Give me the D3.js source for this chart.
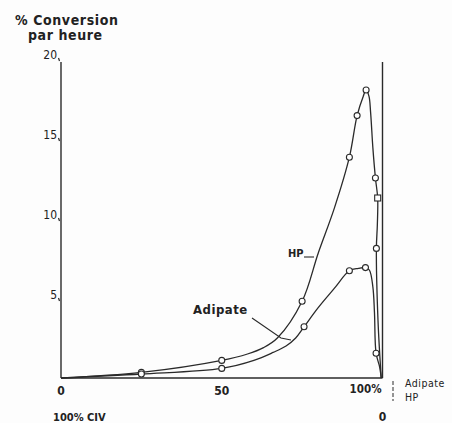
<!DOCTYPE html>
<html>
<head>
<meta charset="utf-8">
<script src="https://cdn.jsdelivr.net/npm/d3@7"></script>
<style>
  body { margin: 0; background: #fdfdfd; }
  svg { display: block; }
  text { font-family: "DejaVu Sans Condensed", "DejaVu Sans", sans-serif; fill: #222; }
</style>
</head>
<body>
<svg width="452" height="423"></svg>
<script>
// traced curve of HP (x = % along CLV -> adipate, y = % conversion per hour)
const hpX = [0, 25, 50, 58, 63, 67.3, 75, 80, 85, 89.7, 92.1, 94, 94.9, 95.8, 96.3, 97, 97.8, 98.5, 98.4, 98.1, 98.6, 99.6];
const hpY = [0, 0.35, 1.1, 1.5, 1.9, 2.5, 4.8, 7.8, 10.6, 13.8, 16.4, 17.6, 18.0, 17.6, 16.6, 14.4, 12.5, 11.25, 9.6, 8.1, 3.6, 0];
// traced curve of Adipate
const adX = [0, 25, 50, 60, 66, 70, 73, 75.6, 80, 85, 89.7, 92.5, 94.7, 95.9, 97.0, 97.5, 98.0, 99.1, 99.6];
const adY = [0, 0.25, 0.6, 1.1, 1.6, 2.0, 2.5, 3.2, 4.4, 5.6, 6.7, 6.85, 6.9, 6.75, 5.7, 4.1, 1.55, 0.7, 0];
// measured points (open circles)
const hpPtX = [25, 50, 75, 89.7, 92.1, 94.9, 97.8, 98.1];
const hpPtY = [0.35, 1.1, 4.8, 13.8, 16.4, 18.0, 12.5, 8.1];
const adPtX = [25, 50, 75.6, 89.7, 94.7, 98.0];
const adPtY = [0.25, 0.6, 3.2, 6.7, 6.9, 1.55];
// square marker
const sqX = [98.5];
const sqY = [11.25];

const yTicks = [5, 10, 15, 20];
const xTicks = [0, 50];

const svg = d3.select("svg");
const ink = "#2a2a2a";

const x = d3.scaleLinear().domain([0, 100]).range([61, 382.5]);
const y = d3.scaleLinear().domain([0, 20]).range([378, 58]);

// axes
svg.append("line").attr("x1", x(0)).attr("x2", x(0)).attr("y1", y(0)).attr("y2", 62)
  .attr("stroke", ink).attr("stroke-width", 1.4);
svg.append("line").attr("x1", x(0)).attr("x2", x(100)).attr("y1", y(0)).attr("y2", y(0))
  .attr("stroke", ink).attr("stroke-width", 1.4);
svg.append("line").attr("x1", x(100)).attr("x2", x(100)).attr("y1", y(0)).attr("y2", 62)
  .attr("stroke", ink).attr("stroke-width", 1.4);

// y ticks and labels
svg.selectAll("text.yt").data(yTicks).join("text").attr("class", "yt")
  .attr("x", 57).attr("y", d => y(d) + 1)
  .attr("text-anchor", "end").style("font-size", "12px").text(d => d);
svg.selectAll("line.ytk").data(yTicks).join("line").attr("class", "ytk")
  .attr("x1", 58.5).attr("x2", 59.5).attr("y1", d => y(d)).attr("y2", d => y(d) + 3)
  .attr("stroke", ink).attr("stroke-width", 1.2);

// x labels
svg.selectAll("text.xt").data(xTicks).join("text").attr("class", "xt")
  .attr("x", d => x(d)).attr("y", 395)
  .attr("text-anchor", "middle").style("font-size", "12px").style("font-weight", "bold").text(d => d);
svg.append("text").attr("x", x(100) - 1).attr("y", 393).attr("text-anchor", "end")
  .style("font-size", "11.5px").style("font-weight", "bold").text("100%");
svg.append("text").attr("x", x(100)).attr("y", 421).attr("text-anchor", "middle")
  .style("font-size", "12px").style("font-weight", "bold").text("0");
svg.append("line").attr("x1", 393).attr("x2", 393).attr("y1", 381).attr("y2", 401)
  .attr("stroke", ink).attr("stroke-width", 1).attr("stroke-dasharray", "4,2");
svg.append("text").attr("x", 405).attr("y", 387).style("font-size", "10.5px")
  .style("letter-spacing", "0.5px").text("Adipate");
svg.append("text").attr("x", 405).attr("y", 401).style("font-size", "10.5px")
  .style("letter-spacing", "0.5px").text("HP");
svg.append("text").attr("x", 53).attr("y", 421)
  .style("font-size", "11px").style("font-weight", "bold").text("100% CIV");

// axis title
svg.append("text").attr("x", 15).attr("y", 25).style("letter-spacing", "0.6px")
  .style("font-size", "14px").style("font-weight", "bold").text("% Conversion");
svg.append("text").attr("x", 28).attr("y", 40).style("letter-spacing", "0.6px")
  .style("font-size", "14px").style("font-weight", "bold").text("par heure");

// curves
const line = d3.line().x(d => x(d[0])).y(d => y(d[1])).curve(d3.curveCatmullRom.alpha(0.5));
const hp = d3.zip(hpX, hpY);
const ad = d3.zip(adX, adY);
svg.selectAll("path.curve").data([hp, ad]).join("path").attr("class", "curve")
  .attr("d", line).attr("fill", "none").attr("stroke", ink).attr("stroke-width", 1.3);

// markers
const pts = d3.zip(hpPtX, hpPtY).concat(d3.zip(adPtX, adPtY));
svg.selectAll("circle.pt").data(pts).join("circle").attr("class", "pt")
  .attr("cx", d => x(d[0])).attr("cy", d => y(d[1])).attr("r", 3)
  .attr("fill", "#fff").attr("stroke", ink).attr("stroke-width", 1.1);
svg.selectAll("rect.sq").data(d3.zip(sqX, sqY)).join("rect").attr("class", "sq")
  .attr("x", d => x(d[0]) - 3).attr("y", d => y(d[1]) - 3).attr("width", 6).attr("height", 6)
  .attr("fill", "#fff").attr("stroke", ink).attr("stroke-width", 1.1);

// curve labels
svg.append("text").attr("x", 288).attr("y", 257).style("font-size", "11px").style("font-weight", "bold").text("HP");
svg.append("line").attr("x1", 304).attr("x2", 314).attr("y1", 257).attr("y2", 257)
  .attr("stroke", ink).attr("stroke-width", 1.1);
svg.append("text").attr("x", 193).attr("y", 314).style("letter-spacing", "0.5px")
  .style("font-size", "13px").style("font-weight", "bold").text("Adipate");
svg.append("path").attr("d", "M252,318 L281,338 L291,340")
  .attr("fill", "none").attr("stroke", ink).attr("stroke-width", 1.1);
</script>
</body>
</html>
